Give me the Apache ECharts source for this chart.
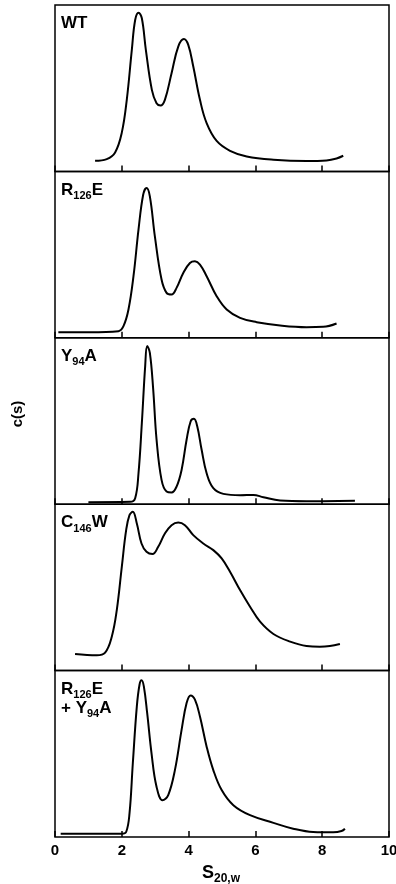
<!DOCTYPE html>
<html><head><meta charset="utf-8">
<script src="https://cdn.jsdelivr.net/npm/echarts@6/dist/echarts.min.js"></script>
<style>html,body{margin:0;padding:0;background:#fff}#c{width:396px;height:884px}</style>
</head><body><div id="c"></div>
<script>
const xTicks = [0, 2, 4, 6, 8, 10];

const wtS = [1.2,1.55,1.8,2.0,2.15,2.3,2.4,2.5,2.6,2.72,2.9,3.04,3.16,3.29,3.49,3.69,3.86,3.99,4.14,4.34,4.54,4.84,5.24,5.74,6.54,7.53,8.13,8.43,8.63];
const wtC = [0.064,0.074,0.114,0.233,0.432,0.73,0.91,0.954,0.92,0.73,0.49,0.41,0.396,0.43,0.59,0.75,0.795,0.76,0.63,0.43,0.29,0.183,0.124,0.09,0.07,0.062,0.066,0.078,0.094];

const r126S = [0.1,1.05,1.9,2.05,2.2,2.35,2.5,2.64,2.74,2.84,2.99,3.19,3.34,3.49,3.64,3.84,4.04,4.19,4.34,4.54,4.84,5.14,5.54,6.04,6.74,7.53,8.03,8.43];
const r126C = [0.034,0.034,0.04,0.07,0.17,0.37,0.65,0.86,0.90,0.85,0.61,0.35,0.27,0.26,0.30,0.39,0.45,0.46,0.44,0.37,0.25,0.17,0.12,0.094,0.074,0.064,0.066,0.086];

const y94S = [1.0,2.25,2.4,2.5,2.6,2.7,2.76,2.84,2.94,3.04,3.19,3.34,3.49,3.64,3.79,3.94,4.06,4.16,4.26,4.39,4.54,4.74,5.04,5.54,5.94,6.24,6.74,7.53,8.98];
const y94C = [0.012,0.014,0.036,0.186,0.487,0.83,0.95,0.91,0.69,0.39,0.146,0.076,0.07,0.106,0.206,0.387,0.497,0.513,0.467,0.327,0.186,0.096,0.062,0.054,0.056,0.042,0.022,0.018,0.02];

const c146S = [0.6,1.25,1.5,1.7,1.85,2.0,2.13,2.23,2.33,2.45,2.59,2.74,2.92,3.09,3.29,3.49,3.69,3.89,4.14,4.44,4.74,4.99,5.24,5.54,5.84,6.14,6.54,7.04,7.53,7.93,8.23,8.53];
const c146C = [0.10,0.092,0.108,0.204,0.364,0.624,0.844,0.934,0.954,0.884,0.764,0.714,0.70,0.744,0.824,0.874,0.89,0.874,0.814,0.764,0.724,0.674,0.594,0.484,0.384,0.294,0.22,0.174,0.148,0.144,0.148,0.16];

const dblS = [0.17,1.55,2.0,2.13,2.23,2.33,2.45,2.53,2.59,2.66,2.76,2.89,3.04,3.22,3.39,3.59,3.79,3.94,4.06,4.19,4.34,4.54,4.74,4.99,5.34,5.84,6.54,7.13,7.73,8.33,8.58,8.68];
const dblC = [0.02,0.02,0.02,0.03,0.14,0.443,0.785,0.915,0.942,0.905,0.744,0.503,0.302,0.221,0.252,0.402,0.644,0.805,0.851,0.825,0.724,0.543,0.402,0.282,0.191,0.131,0.085,0.05,0.03,0.028,0.036,0.05];

const panelLabels = ['{b|WT}', '{b|R}{s|126}{b|E}', '{b|Y}{s|94}{b|A}', '{b|C}{s|146}{b|W}', '{b|R}{s|126}{b|E}\n{b|+ Y}{s|94}{b|A}'];
const xTitle = '{B|S}{S|20,w}';
const yTitle = 'c(s)';

const panels = [[wtS, wtC], [r126S, r126C], [y94S, y94C], [c146S, c146C], [dblS, dblC]];

const FONT = 'Liberation Sans, Arial, sans-serif';
const L = 55, W = 334, TOP = 5, H = 166.4;
const rich = {
  b: {fontFamily: FONT, fontWeight: 'bold', fontSize: 17, color: '#000', lineHeight: 19, verticalAlign: 'bottom'},
  s: {fontFamily: FONT, fontWeight: 'bold', fontSize: 11, color: '#000', lineHeight: 19, verticalAlign: 'bottom', padding: [0, 0, -3, 0]},
  B: {fontFamily: FONT, fontWeight: 'bold', fontSize: 18, color: '#000', lineHeight: 20, verticalAlign: 'bottom'},
  S: {fontFamily: FONT, fontWeight: 'bold', fontSize: 12, color: '#000', lineHeight: 20, verticalAlign: 'bottom', padding: [0, 0, -3, 0]}
};

const grid = [], xAxis = [], yAxis = [], series = [], title = [];
panels.forEach((p, i) => {
  grid.push({left: L, width: W, top: TOP + i * H, height: H, show: true, borderColor: '#000', borderWidth: 1.5,
    backgroundColor: 'transparent', containLabel: false, outerBoundsMode: 'none'});
  const last = i === panels.length - 1;
  xAxis.push({
    gridIndex: i, type: 'value', min: xTicks[0], max: xTicks[xTicks.length - 1], interval: 2,
    axisLine: {show: false},
    axisTick: {show: true, inside: true, length: 6, lineStyle: {color: '#000', width: 1.5}},
    splitLine: {show: false},
    axisLabel: {show: last, showMinLabel: true, showMaxLabel: true, hideOverlap: false, margin: 6, fontFamily: FONT, fontWeight: 'bold', fontSize: 15, color: '#000'}
  });
  yAxis.push({gridIndex: i, type: 'value', min: 0, max: 1, show: false});
  series.push({
    type: 'line', xAxisIndex: i, yAxisIndex: i, showSymbol: false, smooth: 0.4,
    lineStyle: {color: '#000', width: 2}, silent: true,
    data: p[0].map((s, k) => [s, p[1][k]])
  });
  title.push({text: panelLabels[i], left: 61, top: TOP + i * H + 8, textStyle: {rich: rich}, padding: 0});
});
title.push({text: xTitle, left: 202, top: 862, textStyle: {rich: rich}, padding: 0});

const chart = echarts.init(document.getElementById('c'), null, {renderer: 'canvas'});
chart.setOption({
  animation: false,
  grid, xAxis, yAxis, series, title,
  graphic: [{type: 'text', x: 18, y: 414, rotation: Math.PI / 2,
    style: {text: yTitle, font: 'bold 15px ' + FONT, fill: '#000', align: 'center', verticalAlign: 'middle'}}]
});
</script></body></html>
